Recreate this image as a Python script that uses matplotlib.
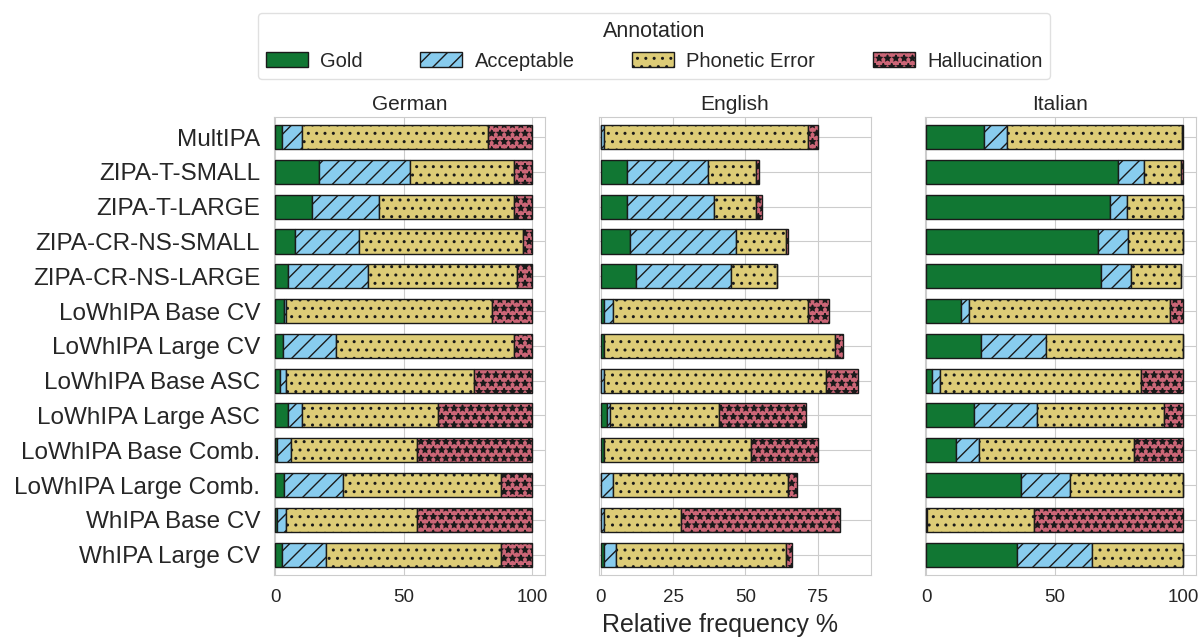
import numpy as np
import matplotlib
matplotlib.use("Agg")
import matplotlib.pyplot as plt
import matplotlib.patches as mpatches
import seaborn as sns

# modelos (filas) y categorías de anotación
modelos = ["MultIPA", "ZIPA-T-SMALL", "ZIPA-T-LARGE", "ZIPA-CR-NS-SMALL",
           "ZIPA-CR-NS-LARGE", "LoWhIPA Base CV", "LoWhIPA Large CV",
           "LoWhIPA Base ASC", "LoWhIPA Large ASC", "LoWhIPA Base Comb.",
           "LoWhIPA Large Comb.", "WhIPA Base CV", "WhIPA Large CV"]
categorias = ["Gold", "Acceptable", "Phonetic Error", "Hallucination"]
idiomas = ["German", "English", "Italian"]

# frecuencias relativas (%) por idioma
de_gold = [2.5, 17, 14.5, 7.5, 5, 3.5, 3.2, 2, 5, 0.6, 3.5, 0.6, 2.6]
de_acc = [8, 35.5, 26, 25, 31, 0.6, 20.3, 2, 5.5, 5.5, 23, 3.5, 17]
de_pe = [72.5, 40.5, 52.5, 64, 58, 80.3, 69.5, 73.5, 53, 49, 61.5, 51, 68.5]
de_hal = [17, 7, 7, 3.5, 6, 15.6, 7, 22.5, 36.5, 45, 12, 45, 12]

en_gold = [0, 9.2, 9.2, 10.2, 12.3, 1, 1, 0, 2, 1, 0, 0, 1]
en_acc = [1, 27.9, 30, 36.7, 32.6, 3.2, 0, 1, 1.1, 0, 4.2, 1, 4.2]
en_pe = [70.8, 16.6, 14.5, 17.1, 16, 67.6, 79.9, 76.9, 37.8, 51, 60.7, 26.9, 58.8]
en_hal = [3.2, 1.1, 2.1, 0.9, 0, 7.2, 2.9, 11, 30, 23, 2.9, 54.8, 2.1]

it_gold = [22.7, 74.8, 71.6, 66.8, 68, 13.5, 21.4, 2.2, 18.7, 11.5, 36.8, 0.5, 35.5]
it_acc = [8.9, 10.1, 6.5, 11.9, 11.8, 3, 25.2, 3.2, 24.4, 8.9, 19.2, 0, 29.2]
it_pe = [68, 14.2, 21.9, 21.3, 19.3, 78.4, 53.4, 78.3, 49.6, 60.5, 44, 41.3, 35.3]
it_hal = [0.4, 0.9, 0, 0, 0, 5.1, 0, 16.3, 7.3, 19.1, 0, 58.2, 0]

datos = {
    "German": [de_gold, de_acc, de_pe, de_hal],
    "English": [en_gold, en_acc, en_pe, en_hal],
    "Italian": [it_gold, it_acc, it_pe, it_hal],
}
ticks_x = {"German": [0, 50, 100], "English": [0, 25, 50, 75], "Italian": [0, 50, 100]}

colores = ["#117733", "#88CCEE", "#DDCC77", "#CC6677"]
tramas = ["", "//", "..", "**"]

sns.set_style("whitegrid")
plt.rcParams["font.family"] = ["Liberation Sans", "DejaVu Sans"]
plt.rcParams["hatch.linewidth"] = 1.0

fig, axes = plt.subplots(1, 3, figsize=(12, 6.37), dpi=100, sharey=True)
fig.subplots_adjust(left=0.2283, right=0.9967, top=0.817, bottom=0.097, wspace=0.2)

y = np.arange(len(modelos))
for ax, idioma in zip(axes, idiomas):
    izquierda = np.zeros(len(modelos))
    for valores, color, trama in zip(datos[idioma], colores, tramas):
        valores = np.array(valores)
        ax.barh(y, valores, left=izquierda, height=0.69, color=color,
                hatch=trama, edgecolor="0.1", linewidth=1.0, zorder=3)
        izquierda += valores
    # margen del 5 % a la derecha del total más largo
    ax.set_xlim(-0.5, izquierda.max() * 1.05)
    ax.set_title(idioma, fontsize=15, color="0.15", pad=5)
    ax.set_xticks(ticks_x[idioma])
    ax.tick_params(axis="x", labelsize=13.5, colors="0.15", length=0, pad=10)
    ax.set_ylim(len(modelos) - 0.41, -0.59)

axes[0].set_yticks(y)
axes[0].set_yticklabels(modelos, fontsize=17.5, color="0.15")
axes[0].tick_params(axis="y", length=0, pad=10)
for ax in axes[1:]:
    ax.tick_params(axis="y", left=False, labelleft=False)

fig.supxlabel("Relative frequency %", x=0.6, y=0.0, fontsize=18, color="0.15")

manejadores = [mpatches.Patch(facecolor=c, hatch=t, edgecolor="0.1", label=l)
               for c, t, l in zip(colores, tramas, categorias)]
leg = fig.legend(handles=manejadores, title="Annotation", ncol=4, loc="upper center",
                 bbox_to_anchor=(0.545, 0.996), fontsize=14.5, title_fontsize=15.5,
                 columnspacing=2.85, handlelength=2.1, handleheight=0.8,
                 handletextpad=0.6, frameon=True)
leg.get_frame().set_edgecolor("0.85")

fig.savefig("out.png", dpi=100)
